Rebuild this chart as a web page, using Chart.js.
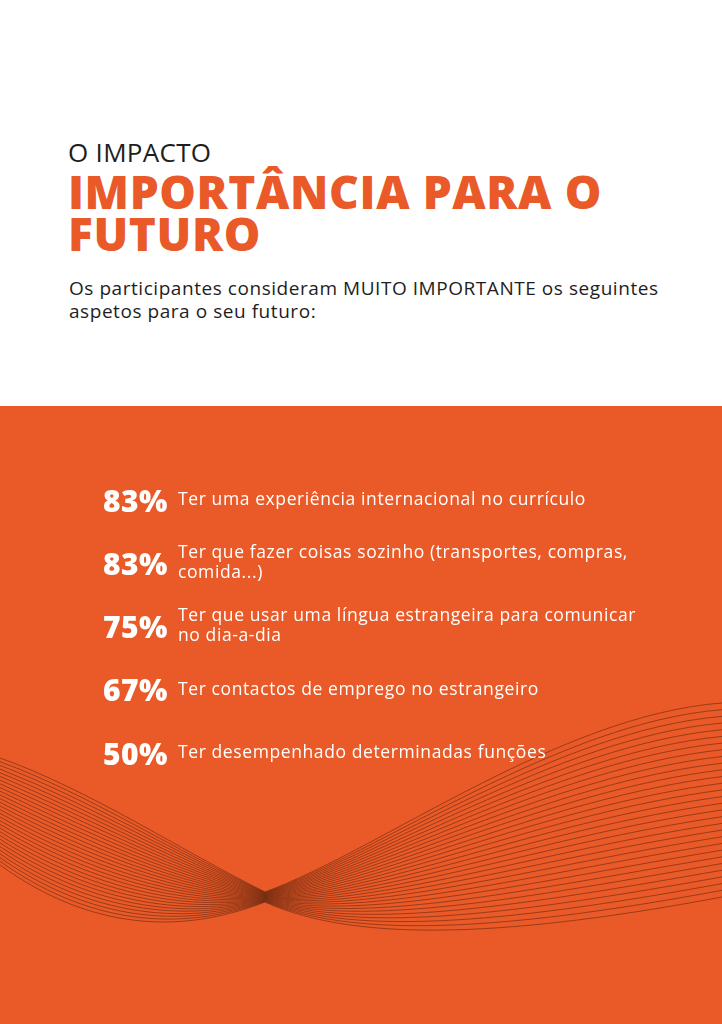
<!DOCTYPE html>
<html lang="pt">
<head>
<meta charset="utf-8">
<title>Importância para o futuro</title>
<script src="https://cdn.jsdelivr.net/npm/chart.js@4/dist/chart.umd.min.js"></script>
<style>
  html, body {
    margin: 0;
    padding: 0;
    background: #ffffff;
  }
  body {
    width: 722px;
    height: 1024px;
    position: relative;
    overflow: hidden;
    font-family: 'Open Sans', 'DejaVu Sans', sans-serif;
  }
  .kicker {
    position: absolute;
    left: 68px;
    top: 136px;
    font-size: 26px;
    font-weight: 400;
    color: #1e1e1e;
    letter-spacing: 0.3px;
    line-height: 32px;
  }
  .title {
    position: absolute;
    left: 68px;
    top: 170px;
    font-size: 46px;
    font-weight: 800;
    color: #e95a28;
    line-height: 42px;
    letter-spacing: 0.6px;
  }
  .intro {
    position: absolute;
    left: 69px;
    top: 277px;
    font-size: 19px;
    font-weight: 400;
    color: #1e1e1e;
    line-height: 23px;
    letter-spacing: 0.55px;
    white-space: nowrap;
  }
  #panel {
    position: absolute;
    left: 0;
    top: 406px;
    width: 722px;
    height: 618px;
    background: #e95a28;
  }
</style>
</head>
<body>
<div class="kicker">O IMPACTO</div>
<div class="title">IMPORTÂNCIA PARA O<br>FUTURO</div>
<div class="intro">Os participantes consideram MUITO IMPORTANTE os seguintes<br>aspetos para o seu futuro:</div>

<div id="panel"><canvas id="impactChart"></canvas></div>

<script>
// aspects rated "muito importante" (each label split in its printed lines)
const aspects = [
  ['Ter uma experiência internacional no currículo'],
  ['Ter que fazer coisas sozinho (transportes, compras,', 'comida...)'],
  ['Ter que usar uma língua estrangeira para comunicar', 'no dia-a-dia'],
  ['Ter contactos de emprego no estrangeiro'],
  ['Ter desempenhado determinadas funções']
];
const shares = [83, 83, 75, 67, 50];

const PANEL_TOP = 406;

// decorative line bundle behind the list (page coordinates)
function drawWaves(ctx) {
  const count = 30;
  const top = {
    left: [[0, 758], [90, 790], [180, 850], [265, 892]],
    right: [[265, 892], [380, 850], [560, 715], [722, 703]]
  };
  const bottom = {
    left: [[0, 865], [90, 930], [180, 935], [265, 902]],
    right: [[265, 902], [360, 945], [520, 935], [722, 897]]
  };
  const mix = (a, b, s) => [a[0] + (b[0] - a[0]) * s, a[1] + (b[1] - a[1]) * s - PANEL_TOP];

  ctx.save();
  ctx.strokeStyle = 'rgba(110, 42, 18, 0.8)';
  ctx.lineWidth = 0.8;
  for (let i = 0; i < count; i++) {
    const s = i / (count - 1);
    const l = top.left.map((p, k) => mix(p, bottom.left[k], s));
    const r = top.right.map((p, k) => mix(p, bottom.right[k], s));
    ctx.beginPath();
    ctx.moveTo(l[0][0], l[0][1]);
    ctx.bezierCurveTo(l[1][0], l[1][1], l[2][0], l[2][1], l[3][0], l[3][1]);
    ctx.bezierCurveTo(r[1][0], r[1][1], r[2][0], r[2][1], r[3][0], r[3][1]);
    ctx.stroke();
  }
  ctx.restore();
}

const listPlugin = {
  id: 'impactList',
  beforeDatasetsDraw(chart) {
    drawWaves(chart.ctx);
  },
  afterDatasetsDraw(chart) {
    const ctx = chart.ctx;
    const meta = chart.getDatasetMeta(0);
    ctx.save();
    ctx.fillStyle = '#ffffff';
    ctx.textBaseline = 'middle';
    meta.data.forEach((bar, i) => {
      const y = bar.y;
      ctx.letterSpacing = '0.5px';
      ctx.font = '800 30px "Open Sans", sans-serif';
      ctx.textAlign = 'right';
      ctx.fillText(shares[i] + '%', 168, y + 1);

      const lines = chart.data.labels[i];
      ctx.letterSpacing = '0.6px';
      ctx.font = '400 17.5px "Open Sans", sans-serif';
      ctx.textAlign = 'left';
      lines.forEach((line, j) => {
        ctx.fillText(line, 178, y - 2 + (j - (lines.length - 1) / 2) * 20);
      });
    });
    ctx.restore();
  }
};

new Chart(document.getElementById('impactChart'), {
  type: 'bar',
  data: {
    labels: aspects,
    datasets: [
      {
        label: 'Muito importante (%)',
        data: shares,
        backgroundColor: 'rgba(0,0,0,0)',
        borderWidth: 0
      }
    ]
  },
  options: {
    indexAxis: 'y',
    responsive: true,
    maintainAspectRatio: false,
    animation: false,
    layout: {
      padding: { top: 96, bottom: 269, left: 0, right: 0 }
    },
    plugins: {
      legend: { display: false },
      tooltip: { enabled: false }
    },
    scales: {
      x: { display: false, min: 0, max: 100 },
      y: { display: false, offset: false }
    }
  },
  plugins: [listPlugin]
});
</script>
</body>
</html>
